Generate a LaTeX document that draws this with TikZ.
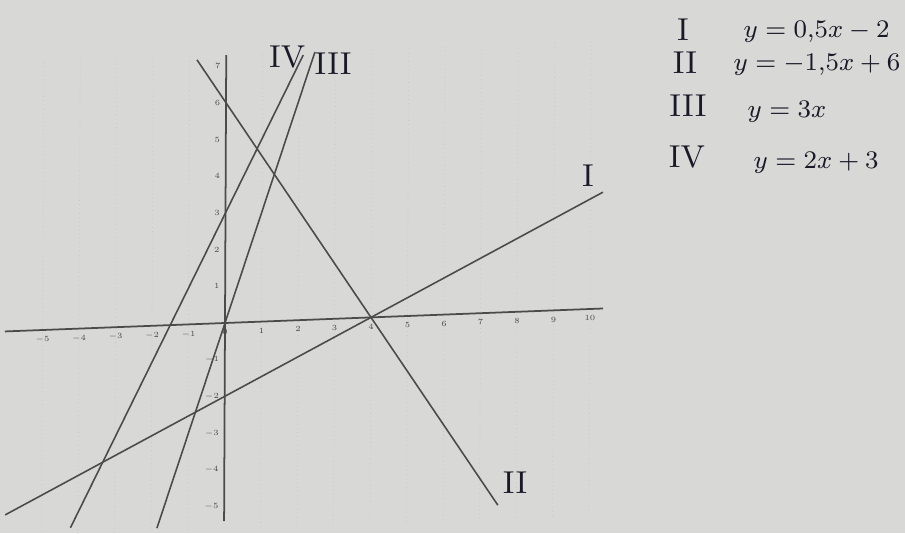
\documentclass[tikz,border=0pt]{standalone}
\usepackage{graphicx}
\definecolor{paper}{RGB}{216,216,214}
\definecolor{pencil}{RGB}{75,75,75}
\definecolor{ink}{RGB}{25,25,40}
\newcommand{\ticktext}[1]{\scalebox{0.45}{$#1$}}
\newcommand{\legendeq}[1]{\scalebox{0.9}{$#1$}}
\tikzset{
    gridline/.style={gray!45, very thin, densely dotted},
    axisline/.style={pencil, line width=0.5pt},
    graphline/.style={pencil, line width=0.45pt},
    ticklabel/.style={pencil, inner sep=0.4pt, font=\fontsize{5}{5}\selectfont},
    numeral/.style={ink, inner sep=0pt, font=\fontsize{9}{9}\selectfont},
    eqn/.style={ink, inner sep=0pt, anchor=west, font=\fontsize{8}{8}\selectfont}
}
\begin{document}
\begin{tikzpicture}
    \useasboundingbox (0,0) rectangle (9.05,5.33);
    \fill[paper] (0,0) rectangle (9.05,5.33);

    % the photographed axes are slightly tilted
    \begin{scope}[shift={(2.25cm,2.10cm)}, x={(0.365cm,0.014cm)}, y={(0.0017cm,0.367cm)}]
        \foreach \x in {-5,...,-1,1,2,...,10}
            \draw[gridline] (\x,-5.6) -- (\x,7.3);

        \draw[axisline] (-6.03,0) -- (10.36,0);
        \draw[axisline] (0,-5.4) -- (0,7.3);

        \foreach \x in {-5,...,10}
            \node[ticklabel, below] (xt\x) at (\x,-0.12) {\ticktext{\x}};

        \foreach \y in {-5,...,-1,1,2,...,7}
            \node[ticklabel, left] (yt\y) at (-0.1,\y) {\ticktext{\y}};

        % I: y = 0.5x - 2
        \draw[graphline, samples=2, domain=-6:10.34] plot (\x, {0.5*\x - 2});
        % II: y = -1.5x + 6
        \draw[graphline, samples=2, domain=-0.8:7.5] plot (\x, {-1.5*\x + 6});
        % III: y = 3x
        \draw[graphline, samples=2, domain=-1.84:2.43] plot (\x, {3*\x});
        % IV: y = 2x + 3
        \draw[graphline, samples=2, domain=-4.21:2.11] plot (\x, {2*\x + 3});

        \node[numeral] (lineI) at (9.93,3.63) {I};
        \node[numeral] (lineII) at (7.97,-4.66) {II};
        \node[numeral] (lineIII) at (2.93,6.96) {III};
        \node[numeral] (lineIV) at (1.67,7.18) {IV};
    \end{scope}

    % legend
    \node[numeral] (keyI) at (6.83,5.03) {I};
    \node[numeral] (keyII) at (6.85,4.70) {II};
    \node[numeral] (keyIII) at (6.88,4.27) {III};
    \node[numeral] (keyIV) at (6.87,3.76) {IV};

    \node[eqn] (eqI) at (7.43,5.01) {\legendeq{y = 0{,}5x - 2}};
    \node[eqn] (eqII) at (7.33,4.68) {\legendeq{y = -1{,}5x + 6}};
    \node[eqn] (eqIII) at (7.47,4.21) {\legendeq{y = 3x}};
    \node[eqn] (eqIV) at (7.53,3.70) {\legendeq{y = 2x + 3}};
\end{tikzpicture}
\end{document}
